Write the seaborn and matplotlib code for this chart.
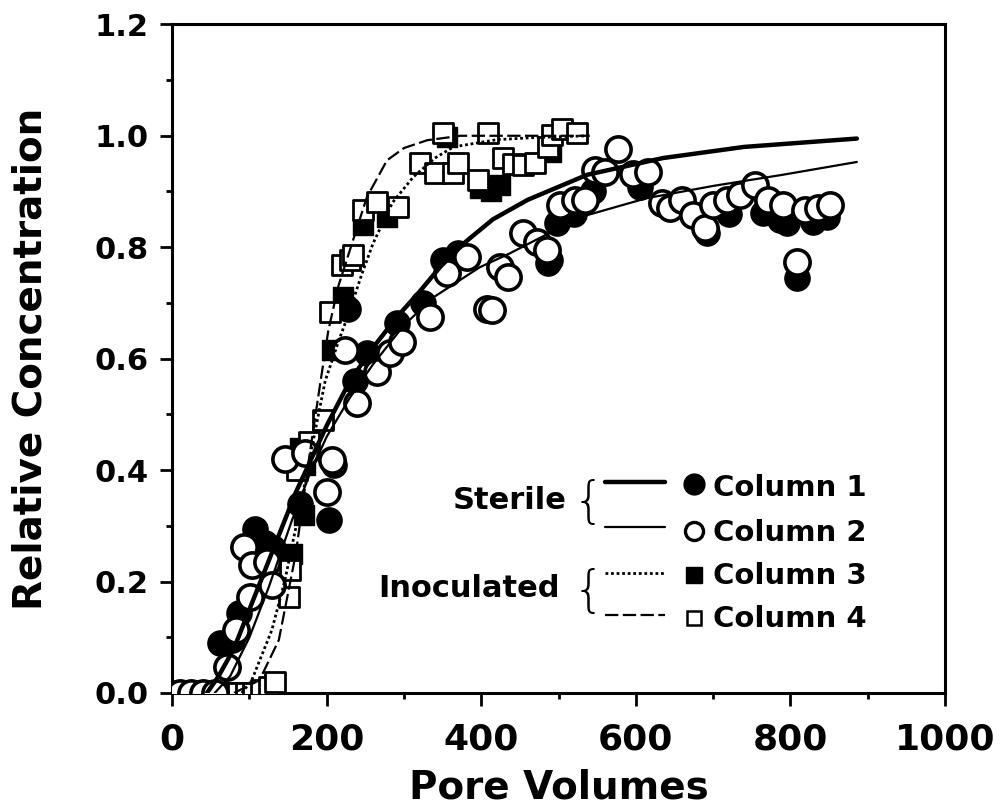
import numpy as np
import pandas as pd
import matplotlib
matplotlib.use("Agg")
import matplotlib.pyplot as plt
import seaborn as sns
from matplotlib.ticker import MultipleLocator, FormatStrFormatter
from matplotlib.lines import Line2D

# ---------------- data ----------------
col1_x = [5, 20, 35, 50, 62, 78, 87, 100, 107, 120, 130, 165, 203, 210, 228, 237, 252,
          291, 325, 351, 370, 486, 489, 498, 520, 545, 605, 692, 720, 765, 787, 796,
          808, 829, 847]
col1_y = [0.0, 0.0, 0.0, 0.0, 0.09, 0.095, 0.143, 0.26, 0.295, 0.27, 0.26, 0.34, 0.31, 0.41,
          0.69, 0.56, 0.61, 0.664, 0.70, 0.777, 0.79, 0.771, 0.777, 0.843, 0.86, 0.90,
          0.908, 0.825, 0.86, 0.861, 0.848, 0.843, 0.744, 0.845, 0.854]

col2_x = [10, 25, 40, 55, 71, 82, 93, 101, 103, 123, 129, 146, 172, 200, 207, 224, 239,
          265, 282, 297, 334, 356, 382, 407, 414, 424, 435, 454, 472, 485, 502, 521, 534,
          547, 560, 577, 596, 616, 634, 644, 660, 674, 690, 700, 718, 735, 754, 771, 790,
          808, 819, 836, 851]
col2_y = [0.0, 0.0, 0.0, 0.0, 0.047, 0.113, 0.262, 0.172, 0.23, 0.235, 0.194, 0.42, 0.43,
          0.36, 0.418, 0.615, 0.52, 0.576, 0.61, 0.63, 0.674, 0.753, 0.782, 0.69, 0.687,
          0.764, 0.746, 0.825, 0.81, 0.795, 0.875, 0.884, 0.884, 0.938, 0.935, 0.977,
          0.932, 0.935, 0.879, 0.870, 0.884, 0.857, 0.834, 0.875, 0.884, 0.893, 0.911,
          0.884, 0.875, 0.773, 0.866, 0.870, 0.875]

col3_x = [15, 30, 45, 60, 75, 90, 100, 110, 120, 130, 155, 171, 166, 172, 207, 221, 247,
          278, 356, 398, 412, 424, 490]
col3_y = [0.0, 0.0, 0.0, 0.0, 0.0, 0.0, 0.0, 0.0, 0.0, 0.01, 0.25, 0.32, 0.44, 0.41, 0.615,
          0.71, 0.839, 0.854, 0.997, 0.906, 0.90, 0.911, 0.97]

col4_x = [10, 25, 40, 55, 70, 85, 95, 105, 115, 125, 133, 151, 153, 162, 177, 195, 204,
          220, 230, 234, 247, 265, 292, 321, 340, 351, 364, 370, 396, 409, 428, 441, 454,
          470, 486, 492, 505, 524]
col4_y = [0.0, 0.0, 0.0, 0.0, 0.0, 0.0, 0.0, 0.0, 0.005, 0.01, 0.02, 0.172, 0.22, 0.40,
          0.45, 0.49, 0.683, 0.768, 0.777, 0.786, 0.866, 0.881, 0.872, 0.952, 0.934,
          1.005, 0.934, 0.952, 0.92, 1.005, 0.961, 0.95, 0.947, 0.952, 0.979, 1.001,
          1.013, 1.005]

# model fits
fit1_x = [45, 60, 80, 100, 120, 140, 160, 180, 200, 230, 260, 291, 320, 347, 380, 415,
          460, 537, 635, 740, 886]
fit1_y = [0.0, 0.03, 0.08, 0.15, 0.22, 0.29, 0.36, 0.42, 0.48, 0.56, 0.62, 0.675, 0.72,
          0.765, 0.81, 0.85, 0.885, 0.93, 0.96, 0.98, 0.995]
fit2_x = [55, 75, 100, 125, 155, 180, 200, 230, 260, 300, 338, 398, 437, 528, 614, 700,
          790, 886]
fit2_y = [0.0, 0.03, 0.10, 0.19, 0.31, 0.40, 0.46, 0.53, 0.59, 0.66, 0.71, 0.764, 0.789,
          0.854, 0.888, 0.91, 0.93, 0.953]
fit3_x = [90, 103, 129, 146, 165, 185, 198, 215, 230, 245, 260, 285, 312, 340, 364, 420,
          472, 540]
fit3_y = [0.0, 0.023, 0.113, 0.203, 0.33, 0.47, 0.56, 0.63, 0.687, 0.75, 0.807, 0.88,
          0.926, 0.96, 0.98, 0.993, 0.997, 1.0]
fit4_x = [80, 113, 138, 160, 177, 191, 202, 215, 230, 252, 278, 300, 330, 373, 540]
fit4_y = [0.0, 0.023, 0.095, 0.25, 0.42, 0.55, 0.65, 0.73, 0.795, 0.89, 0.956, 0.978,
          0.992, 1.0, 1.0]

x_ticks = [0, 200, 400, 600, 800, 1000]
y_ticks = [0.0, 0.2, 0.4, 0.6, 0.8, 1.0, 1.2]
legend_labels = ["Column 1", "Column 2", "Column 3", "Column 4"]

# ---------------- style ----------------
sns.set_style("ticks")
plt.rcParams['font.family'] = ['DejaVu Sans']
plt.rcParams['font.weight'] = 'bold'
for k in ['text.color', 'axes.labelcolor', 'xtick.color', 'ytick.color', 'axes.edgecolor']:
    plt.rcParams[k] = 'black'

fig = plt.figure(figsize=(10.01, 8.11), dpi=100)
ax = fig.add_axes([0.172, 0.1455, 0.772, 0.8245])

# fitted curves
sns.lineplot(x=fit1_x, y=fit1_y, ax=ax, color='black', lw=3.2, estimator=None, sort=False, zorder=4)
sns.lineplot(x=fit2_x, y=fit2_y, ax=ax, color='black', lw=1.6, estimator=None, sort=False, zorder=4)
sns.lineplot(x=fit3_x, y=fit3_y, ax=ax, color='black', lw=2.0, estimator=None, sort=False,
             linestyle=(0, (1, 1)), zorder=4)
sns.lineplot(x=fit4_x, y=fit4_y, ax=ax, color='black', lw=1.6, estimator=None, sort=False,
             linestyle=(0, (6, 2)), zorder=4)

# markers
sns.scatterplot(x=col1_x, y=col1_y, ax=ax, marker='o', s=330, color='black',
                edgecolor='black', linewidth=1, zorder=2)
sns.scatterplot(x=col3_x, y=col3_y, ax=ax, marker='s', s=190, color='black',
                edgecolor='black', linewidth=1, zorder=2)
sns.scatterplot(x=col4_x, y=col4_y, ax=ax, marker='s', s=190, color='white',
                edgecolor='black', linewidth=2.0, zorder=3)
sns.scatterplot(x=col2_x, y=col2_y, ax=ax, marker='o', s=330, color='white',
                edgecolor='black', linewidth=2.6, zorder=3)

ax.set_xlim(0, 1000)
ax.set_ylim(0, 1.2)
ax.set_xticks(x_ticks)
ax.set_yticks(y_ticks)
ax.xaxis.set_minor_locator(MultipleLocator(100))
ax.yaxis.set_minor_locator(MultipleLocator(0.1))
ax.yaxis.set_major_formatter(FormatStrFormatter('%.1f'))
ax.tick_params(axis='both', which='major', direction='out', length=9, width=2, color='black')
ax.tick_params(axis='both', which='minor', direction='out', length=4, width=2, color='black')
ax.tick_params(axis='x', which='major', labelsize=26, pad=12)
ax.tick_params(axis='y', which='major', labelsize=22, pad=8)
for lab in ax.get_xticklabels() + ax.get_yticklabels():
    lab.set_fontweight('bold')
for sp in ax.spines.values():
    sp.set_visible(True)
    sp.set_linewidth(2.2)
    sp.set_color('black')

ax.set_xlabel("Pore Volumes", fontsize=28, fontweight='bold', labelpad=9)
ax.set_ylabel("Relative Concentration", fontsize=28, fontweight='bold', labelpad=32)

# ---------------- custom legend ----------------
T = ax.transAxes
ax.text(0.511, 0.2885, "Sterile", transform=T, ha='right', va='center', fontsize=22, fontweight='bold')
ax.text(0.502, 0.157, "Inoculated", transform=T, ha='right', va='center', fontsize=22, fontweight='bold')
ax.text(0.539, 0.284, "{", transform=T, ha='center', va='center', fontsize=36, fontweight='light')
ax.text(0.539, 0.151, "{", transform=T, ha='center', va='center', fontsize=36, fontweight='light')

line_ys = [0.315, 0.248, 0.179, 0.117]
line_styles = [dict(lw=3.2, ls='-'), dict(lw=1.6, ls='-'), dict(lw=2.0, ls=(0, (1, 1))),
               dict(lw=1.6, ls=(0, (6, 2)))]
for ly, st in zip(line_ys, line_styles):
    ax.add_line(Line2D([0.560, 0.638], [ly, ly], transform=T, color='black', **st))

mark_ys = [0.312, 0.242, 0.176, 0.112]
mark_styles = [dict(marker='o', ms=15, mfc='black', mec='black', mew=1),
               dict(marker='o', ms=13, mfc='white', mec='black', mew=2.4),
               dict(marker='s', ms=11, mfc='black', mec='black', mew=1),
               dict(marker='s', ms=10, mfc='white', mec='black', mew=1.8)]
for my, st in zip(mark_ys, mark_styles):
    ax.add_line(Line2D([0.675], [my], transform=T, ls='none', **st))

text_ys = [0.306, 0.239, 0.175, 0.111]
for ty, lab in zip(text_ys, legend_labels):
    ax.text(0.700, ty, lab, transform=T, ha='left', va='center', fontsize=21, fontweight='bold')

fig.savefig("out.png", dpi=100)
